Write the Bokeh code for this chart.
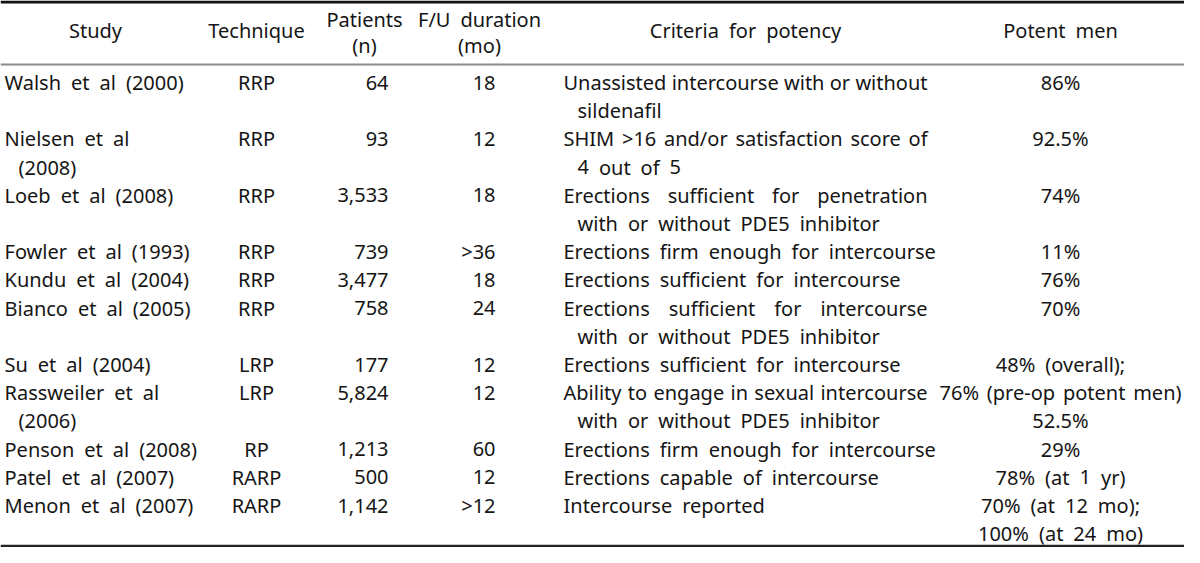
import os
import subprocess
from bokeh.plotting import figure
from bokeh.models import ColumnDataSource, Range1d
from bokeh.embed import file_html
from bokeh.resources import INLINE
from bokeh.core.properties import value

# ---------------- data ----------------
headers_single = ["Study", "Technique", "Criteria for potency", "Potent men"]
headers_double = [["Patients", "(n)"], ["F/U duration", "(mo)"]]

study_lines = [
    ["Walsh et al (2000)"],
    ["Nielsen et al", "(2008)"],
    ["Loeb et al (2008)"],
    ["Fowler et al (1993)"],
    ["Kundu et al (2004)"],
    ["Bianco et al (2005)"],
    ["Su et al (2004)"],
    ["Rassweiler et al", "(2006)"],
    ["Penson et al (2008)"],
    ["Patel et al (2007)"],
    ["Menon et al (2007)"],
]
techniques = ["RRP", "RRP", "RRP", "RRP", "RRP", "RRP", "LRP", "LRP", "RP", "RARP", "RARP"]
patients = ["64", "93", "3,533", "739", "3,477", "758", "177", "5,824", "1,213", "500", "1,142"]
fu_duration = ["18", "12", "18", ">36", "18", "24", "12", "12", "60", "12", ">12"]
criteria = [
    ["Unassisted intercourse with or without", "sildenafil"],
    ["SHIM >16 and/or satisfaction score of", "4 out of 5"],
    ["Erections sufficient for penetration", "with or without PDE5 inhibitor"],
    ["Erections firm enough for intercourse"],
    ["Erections sufficient for intercourse"],
    ["Erections sufficient for intercourse", "with or without PDE5 inhibitor"],
    ["Erections sufficient for intercourse"],
    ["Ability to engage in sexual intercourse", "with or without PDE5 inhibitor"],
    ["Erections firm enough for intercourse"],
    ["Erections capable of intercourse"],
    ["Intercourse reported"],
]
potent_men = [
    ["86%"],
    ["92.5%"],
    ["74%"],
    ["11%"],
    ["76%"],
    ["70%"],
    ["48% (overall);", "76% (pre-op potent men)"],
    ["", "52.5%"],
    ["29%"],
    ["78% (at 1 yr)"],
    ["70% (at 12 mo);", "100% (at 24 mo)"],
]

# ---------------- font measuring ----------------
FONT = "Noto Sans"
FS = 20
GAP = 10


def find_font():
    try:
        out = subprocess.run(["fc-match", "-f", "%{family}|%{file}", "Noto Sans:style=Regular"],
                             capture_output=True, text=True, timeout=5).stdout.strip()
        fam, path = out.split("|", 1)
        if "Noto Sans" in fam and os.path.exists(path):
            return path
    except Exception:
        pass
    for root in ["/usr/share/fonts", "/usr/local/share/fonts", os.path.expanduser("~/.fonts")]:
        for dp, dn, fn in os.walk(root):
            for f in fn:
                if f.startswith("NotoSans-Regular") or f.startswith("NotoSans["):
                    return os.path.join(dp, f)
    return None


FONT_PATH = find_font()
_pil_font = None
if FONT_PATH:
    try:
        from PIL import ImageFont
        _pil_font = ImageFont.truetype(FONT_PATH, FS)
    except Exception:
        _pil_font = None


def measure(s):
    if _pil_font is not None:
        try:
            return float(_pil_font.getlength(s))
        except Exception:
            pass
    return len(s) * 0.56 * FS


words_x, words_y, words_t = [], [], []


def place(line, x, y, align="left", justify_to=None, left_limit=None, right_limit=None):
    if not line:
        return
    words = line.split(" ")
    ws = [measure(w) for w in words]
    gap = GAP
    if justify_to is not None and len(words) > 1:
        gap = max(GAP * 0.5, (justify_to - x - sum(ws)) / (len(words) - 1))
    total = sum(ws) + gap * (len(words) - 1)
    # squeeze word gaps if the line is wider than the available room
    if left_limit is not None and right_limit is not None and len(words) > 1:
        room = right_limit - left_limit
        if total > room:
            gap = max(3.0, (room - sum(ws)) / (len(words) - 1))
            total = sum(ws) + gap * (len(words) - 1)
    if align == "center":
        x0 = x - total / 2
    elif align == "right":
        x0 = x - total
    else:
        x0 = x
    if right_limit is not None and x0 + total > right_limit:
        x0 = right_limit - total
    cx = x0
    for w, wd in zip(words, ws):
        words_x.append(cx)
        words_y.append(y)
        words_t.append(w)
        cx += wd + gap


# ---------------- layout ----------------
X_STUDY, X_TECH, X_PAT, X_FU, X_CRIT, X_CRIT_R = 12, 264, 396, 503, 571, 935
X_POT, X_POT_L, X_RIGHT = 1068, 948, 1190
INDENT = 14
Y0, PITCH = 90, 28.2
Y_HDR_MID, Y_HDR_1, Y_HDR_2 = 38, 27, 53

for txt, x in zip(headers_single, [103, X_TECH, 753, X_POT]):
    place(txt, x, Y_HDR_MID, "center")
for (l1, l2), x in zip(headers_double, [372, 487]):
    place(l1, x, Y_HDR_1, "center")
    place(l2, x, Y_HDR_2, "center")

line_idx = 0
for i in range(len(study_lines)):
    y = Y0 + PITCH * line_idx
    for k, ln in enumerate(study_lines[i]):
        place(ln, X_STUDY + (INDENT if k else 0), y + PITCH * k)
    place(techniques[i], X_TECH, y, "center")
    place(patients[i], X_PAT, y, "right")
    place(fu_duration[i], X_FU, y, "right")
    crit = criteria[i]
    for k, ln in enumerate(crit):
        last = (k == len(crit) - 1)
        place(ln, X_CRIT + (INDENT if k else 0), y + PITCH * k,
              "left", None if last else X_CRIT_R)
    for k, ln in enumerate(potent_men[i]):
        place(ln, X_POT, y + PITCH * k, "center", left_limit=X_POT_L, right_limit=X_RIGHT)
    line_idx += max(len(study_lines[i]), len(crit))

# ---------------- figure ----------------
p = figure(width=1184, height=547, x_range=Range1d(8, 1192), y_range=Range1d(555, 8),
           output_backend="svg", toolbar_location=None, min_border=0)
p.axis.visible = False
p.grid.visible = False
p.outline_line_color = None
p.background_fill_color = "white"
p.border_fill_color = "white"

# rules of the table
p.segment(x0=[8], y0=[9.5], x1=[1192], y1=[9.5], line_width=3, line_color="#111111")
p.segment(x0=[8], y0=[72], x1=[1192], y1=[72], line_width=2.2, line_color="#8a8a8a")
p.segment(x0=[8], y0=[553.5], x1=[1192], y1=[553.5], line_width=2.5, line_color="#222222")

src = ColumnDataSource(dict(x=words_x, y=words_y, text=words_t))
p.text(x="x", y="y", text="text", source=src, text_font=value(FONT),
       text_font_size=f"{FS}px", text_align="left", text_baseline="middle",
       text_color="#151515")

open("out.html", "w").write(file_html(p, INLINE))
